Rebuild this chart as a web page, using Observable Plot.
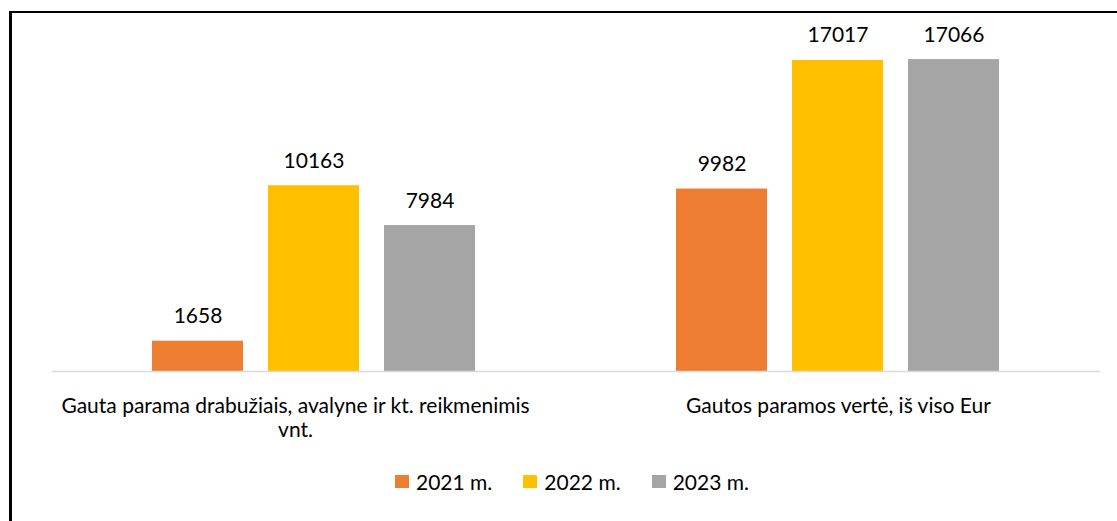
<!DOCTYPE html>
<html><head><meta charset="utf-8">
<script src="https://cdn.jsdelivr.net/npm/d3@7"></script>
<script src="https://cdn.jsdelivr.net/npm/@observablehq/plot@0.6"></script>
<style>
body{margin:0;background:#fff;font-family:Lato,sans-serif}
#wrap{position:relative;width:1117px;height:521px;overflow:hidden;background:#fff}
#chart{position:absolute;left:0;top:0}
#frame{position:absolute;left:9px;top:11px;width:1200px;height:600px;border-left:3px solid #000;border-top:2.5px solid #000;pointer-events:none}
#legend{position:absolute;left:395px;top:469px;display:flex;align-items:center;font-size:21px;color:#000;font-family:Lato,sans-serif}
.item{display:flex;align-items:center;margin-right:31px}
.sw{width:14px;height:13px;margin-right:7px}
</style></head>
<body>
<div id="wrap"><div id="chart"></div><div id="legend"></div><div id="frame"></div></div>
<script>
const categories = ["Gauta parama drabužiais, avalyne ir kt. reikmenimis vnt.", "Gautos paramos vertė, iš viso Eur"];
const categoryLines = [["Gauta parama drabužiais, avalyne ir kt. reikmenimis", "vnt."], ["Gautos paramos vertė, iš viso Eur"]];
const years = ["2021 m.", "2022 m.", "2023 m."];
const values2021 = [1658, 9982];
const values2022 = [10163, 17017];
const values2023 = [7984, 17066];
const colors = ["#ED7D31", "#FFC000", "#A5A5A5"];

const series = [values2021, values2022, values2023];
const data = [];
categories.forEach((c, i) => years.forEach((y, j) => data.push({cat: c, year: y, value: series[j][i]})));
const lineOf = c => categoryLines[categories.indexOf(c)].join("\n");

const plot = Plot.plot({
  width: 1117, height: 460,
  marginLeft: 52, marginRight: 17, marginTop: 42, marginBottom: 89,
  style: {background: "transparent", fontFamily: "Lato, sans-serif", color: "#000"},
  fx: {domain: categories, padding: 0, axis: null},
  x: {domain: years, paddingInner: 0.2155, paddingOuter: 0.866, axis: null},
  y: {domain: [0, 18000], axis: null},
  color: {domain: years, range: colors},
  marks: [
    Plot.barY(data, {fx: "cat", x: "year", y: "value", fill: "year"}),
    Plot.ruleY([0], {stroke: "#D9D9D9", strokeWidth: 1.5}),
    Plot.text(data, {fx: "cat", x: "year", y: "value", text: d => String(d.value), lineAnchor: "bottom", dy: -18, fontSize: 21, fill: "#000"}),
    Plot.text([categories[0]], {fx: d => d, text: lineOf, frameAnchor: "bottom", lineAnchor: "top", dy: 24, dx: -19, fontSize: 21, lineHeight: 1.15, fill: "#000"}),
    Plot.text([categories[1]], {fx: d => d, text: lineOf, frameAnchor: "bottom", lineAnchor: "top", dy: 24, fontSize: 21, lineHeight: 1.15, fill: "#000", letterSpacing: "0.6px"})
  ]
});
document.getElementById("chart").appendChild(plot);

const legend = document.getElementById("legend");
years.forEach((y, j) => {
  const it = document.createElement("div"); it.className = "item";
  const sw = document.createElement("div"); sw.className = "sw"; sw.style.background = colors[j];
  const t = document.createElement("span"); t.textContent = y;
  it.appendChild(sw); it.appendChild(t); legend.appendChild(it);
});
</script>
</body></html>
